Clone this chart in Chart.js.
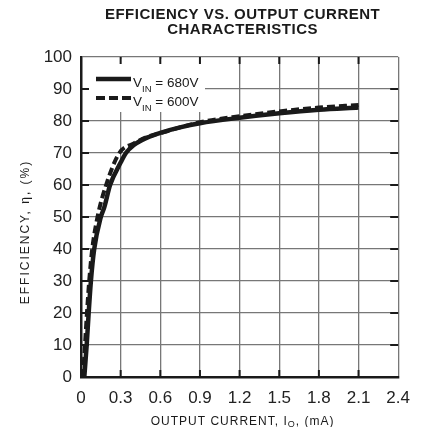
<!DOCTYPE html>
<html>
<head>
<meta charset="utf-8">
<script src="https://cdn.jsdelivr.net/npm/chart.js@4.4.1/dist/chart.umd.min.js"></script>
<style>
  html, body { margin: 0; padding: 0; background: #fff; }
  #wrap { width: 421px; height: 427px; position: relative; }
</style>
</head>
<body>
<div id="wrap"><canvas id="eff_chart"></canvas></div>
<script>
// values
var current680 = [0.025, 0.043, 0.058, 0.075, 0.1, 0.15, 0.176, 0.22, 0.3, 0.34, 0.4, 0.5, 0.6, 0.75, 0.9, 1.2, 1.5, 1.8, 2.1];
var eff680     = [0, 10, 20, 30, 40, 50, 53, 60, 67, 70, 72.5, 74.8, 76.3, 78, 79.3, 81, 82.4, 83.5, 84.2];
var current600 = [0.015, 0.03, 0.045, 0.062, 0.085, 0.125, 0.19, 0.29, 0.4, 0.5, 0.6, 0.75, 0.9, 1.2, 1.5, 1.8, 2.1];
var eff600     = [0, 10, 20, 30, 40, 50, 60, 70, 73, 75, 76.2, 78, 79.6, 81.5, 83, 84.2, 85];
var xTicks = [0, 0.3, 0.6, 0.9, 1.2, 1.5, 1.8, 2.1, 2.4];
var yTicks = [0, 10, 20, 30, 40, 50, 60, 70, 80, 90, 100];
var seriesNames = ['680V', '600V'];
var titleLines = ['EFFICIENCY VS. OUTPUT CURRENT', 'CHARACTERISTICS'];

var FONT = '"Liberation Sans", Arial, Helvetica, sans-serif';
var INK = '#1a1a1a';

function toPoints(xs, ys) {
    return xs.map(function (x, i) { return { x: x, y: ys[i] }; });
}

// draws main text + subscript + rest, starting at x
function subText(ctx, x, y, main, sub, rest, size, subSize, drop) {
    ctx.font = size + 'px ' + FONT;
    ctx.fillText(main, x, y);
    x += ctx.measureText(main).width;
    ctx.font = subSize + 'px ' + FONT;
    ctx.fillText(sub, x, y + drop);
    x += ctx.measureText(sub).width;
    ctx.font = size + 'px ' + FONT;
    ctx.fillText(rest, x, y);
    return x + ctx.measureText(rest).width;
}

function subWidth(ctx, main, sub, rest, size, subSize) {
    ctx.font = size + 'px ' + FONT;
    var w = ctx.measureText(main).width + ctx.measureText(rest).width;
    ctx.font = subSize + 'px ' + FONT;
    return w + ctx.measureText(sub).width;
}

var decorPlugin = {
    id: 'decor',
    beforeDatasetsDraw: function (chart) {
        var ctx = chart.ctx, a = chart.chartArea;
        // white legend panel hides the grid behind it
        ctx.save();
        ctx.fillStyle = '#fff';
        ctx.fillRect(a.left + 2, a.top + 2, 122, 53);
        ctx.restore();
    },
    afterDatasetsDraw: function (chart) {
        var ctx = chart.ctx, a = chart.chartArea;
        var xs = chart.scales.x, ys = chart.scales.y;
        ctx.save();

        // short inward ticks on all four edges
        ctx.strokeStyle = INK;
        ctx.lineWidth = 2;
        ctx.beginPath();
        xTicks.forEach(function (v) {
            if (v === 0 || v === 2.4) return;
            var px = xs.getPixelForValue(v);
            ctx.moveTo(px, a.top); ctx.lineTo(px, a.top + 7);
            ctx.moveTo(px, a.bottom); ctx.lineTo(px, a.bottom - 7);
        });
        yTicks.forEach(function (v) {
            if (v === 0 || v === 100) return;
            var py = ys.getPixelForValue(v);
            ctx.moveTo(a.left, py); ctx.lineTo(a.left + 8, py);
            ctx.moveTo(a.right, py); ctx.lineTo(a.right - 8, py);
        });
        ctx.stroke();

        // legend
        var lx0 = a.left + 15, lx1 = a.left + 50;
        var ly = [a.top + 22, a.top + 41];
        ctx.lineWidth = 4.5;
        ctx.beginPath(); ctx.moveTo(lx0, ly[0]); ctx.lineTo(lx1, ly[0]); ctx.stroke();
        ctx.lineWidth = 4;
        ctx.setLineDash([9, 4]);
        ctx.beginPath(); ctx.moveTo(lx0, ly[1]); ctx.lineTo(lx1, ly[1]); ctx.stroke();
        ctx.setLineDash([]);
        ctx.fillStyle = INK;
        ctx.textBaseline = 'alphabetic';
        ctx.textAlign = 'left';
        subText(ctx, lx1 + 2, ly[0] + 7.5, 'V', 'IN', ' = ' + seriesNames[0], 13.5, 9.5, 5);
        subText(ctx, lx1 + 2, ly[1] + 7.5, 'V', 'IN', ' = ' + seriesNames[1], 13.5, 9.5, 5);

        // title
        var cx = (a.left + a.right) / 2 + 3;
        ctx.textAlign = 'center';
        ctx.font = 'bold 15px ' + FONT;
        ctx.letterSpacing = '0.5px';
        ctx.fillText(titleLines[0], cx, 19.3);
        ctx.fillText(titleLines[1], cx, 34.3);

        // x axis title
        ctx.letterSpacing = '1px';
        ctx.textAlign = 'left';
        var w = subWidth(ctx, 'OUTPUT CURRENT, I', 'O', ', (mA)', 12, 9);
        subText(ctx, cx - w / 2, 425, 'OUTPUT CURRENT, I', 'O', ', (mA)', 12, 9, 2);

        // y axis title
        ctx.letterSpacing = '2px';
        ctx.translate(29, (a.top + a.bottom) / 2 + 15);
        ctx.rotate(-Math.PI / 2);
        ctx.textAlign = 'center';
        ctx.font = '12px ' + FONT;
        ctx.fillText('EFFICIENCY, \u03b7, (%)', 0, 0);
        ctx.restore();
    }
};

new Chart(document.getElementById('eff_chart').getContext('2d'), {
    type: 'scatter',
    data: {
        datasets: [{
            label: 'VIN = ' + seriesNames[0],
            data: toPoints(current680, eff680),
            showLine: true,
            borderColor: INK,
            borderWidth: 4.5,
            pointRadius: 0,
            cubicInterpolationMode: 'monotone'
        }, {
            label: 'VIN = ' + seriesNames[1],
            data: toPoints(current600, eff600),
            showLine: true,
            borderColor: INK,
            borderWidth: 4,
            borderDash: [8, 4],
            pointRadius: 0,
            cubicInterpolationMode: 'monotone'
        }]
    },
    options: {
        responsive: true,
        maintainAspectRatio: false,
        animation: false,
        layout: { padding: { top: 57, right: 21, left: 0, bottom: 0 } },
        plugins: {
            legend: { display: false },
            tooltip: { enabled: false },
            title: { display: false }
        },
        scales: {
            x: {
                type: 'linear',
                min: 0,
                max: 2.4,
                afterFit: function (s) { s.height = 50; },
                afterBuildTicks: function (s) { s.ticks = xTicks.map(function (v) { return { value: v }; }); },
                ticks: {
                    color: '#222',
                    padding: 11,
                    maxRotation: 0,
                    font: { family: FONT, size: 17 },
                    callback: function (v) { return v === 0 ? '0' : v.toFixed(1); }
                },
                grid: { color: '#777', lineWidth: 1.3, drawTicks: false },
                border: { display: true, color: INK, width: 2.5 }
            },
            y: {
                min: 0,
                max: 100,
                afterFit: function (s) { s.width = 81; },
                afterBuildTicks: function (s) { s.ticks = yTicks.map(function (v) { return { value: v }; }); },
                ticks: {
                    color: '#222',
                    padding: 9,
                    font: { family: FONT, size: 17 }
                },
                grid: { color: '#777', lineWidth: 1.3, drawTicks: false },
                border: { display: true, color: INK, width: 2.5 }
            }
        }
    },
    plugins: [decorPlugin]
});
</script>
</body>
</html>
